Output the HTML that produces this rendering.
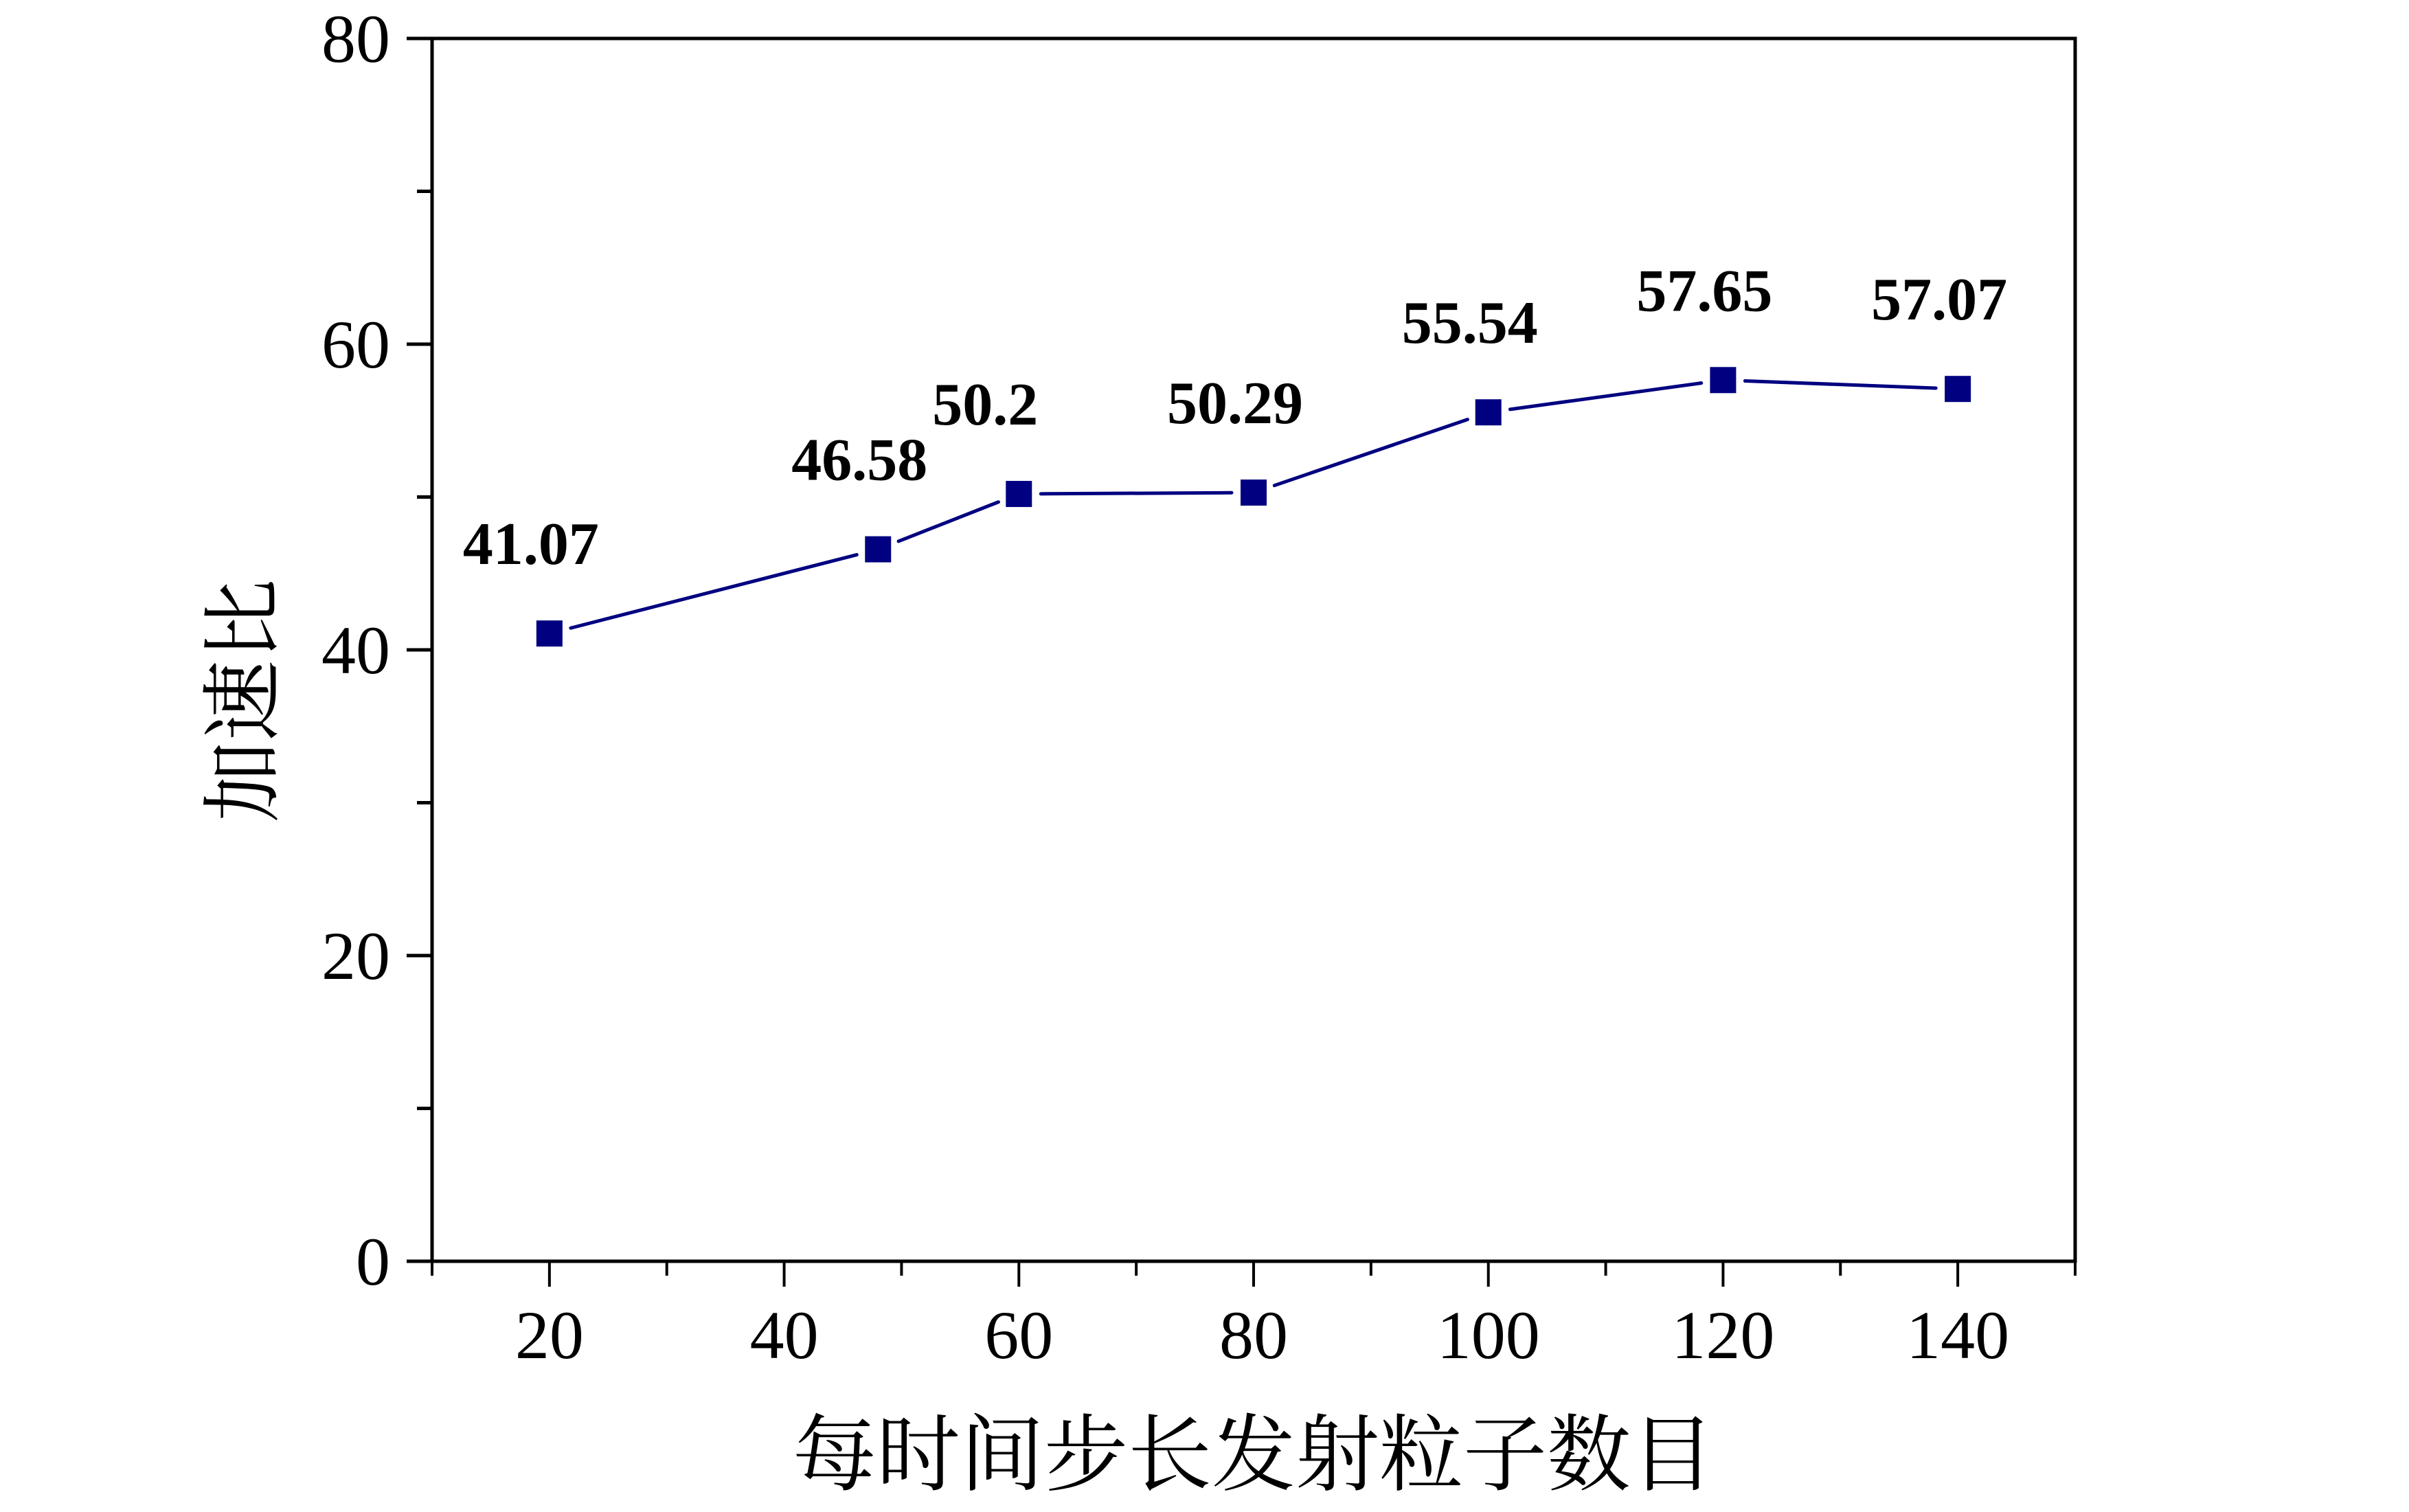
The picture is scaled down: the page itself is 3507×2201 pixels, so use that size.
<!DOCTYPE html>
<html><head><meta charset="utf-8">
<style>
html,body{margin:0;padding:0;background:#fff;}
svg{display:block;}
</style></head>
<body>
<svg id="chart" width="3507" height="2201" viewBox="0 0 3507 2201" xmlns="http://www.w3.org/2000/svg">
<rect x="0" y="0" width="3507" height="2201" fill="#fff"/>
<g id="axes"></g>
<g id="series"></g>
<text x="1825" y="2160" text-anchor="middle" font-size="122" font-family="'Liberation Serif','Noto Serif CJK SC','Noto Sans CJK SC',serif">每时间步长发射粒子数目</text>
<text transform="translate(395,1020) rotate(-90)" text-anchor="middle" font-size="118" font-family="'Liberation Serif','Noto Serif CJK SC','Noto Sans CJK SC',serif">加速比</text>
</svg>
<script>
const xValues = [20, 48, 60, 80, 100, 120, 140];
const yValues = [41.07, 46.58, 50.2, 50.29, 55.54, 57.65, 57.07];
const pointLabels = ["41.07", "46.58", "50.2", "50.29", "55.54", "57.65", "57.07"];
const xTickLabels = ["20", "40", "60", "80", "100", "120", "140"];
const yTickLabels = ["0", "20", "40", "60", "80"];

const NS = "http://www.w3.org/2000/svg";
const L = 629, R = 3021, T = 56, B = 1836;
const XMIN = 10, XMAX = 150, YMIN = 0, YMAX = 80;
const sx = v => L + (v - XMIN) / (XMAX - XMIN) * (R - L);
const sy = v => B - (v - YMIN) / (YMAX - YMIN) * (B - T);
function mk(tag, attrs, parent) {
  const e = document.createElementNS(NS, tag);
  for (const k in attrs) e.setAttribute(k, attrs[k]);
  parent.appendChild(e);
  return e;
}
const axes = document.getElementById('axes');
const series = document.getElementById('series');
const serif = "'Liberation Serif','Times New Roman',serif";

// frame
let f = mk('rect', {x: L, y: T, width: R - L, height: B - T, fill: 'none', stroke: '#000', 'stroke-width': 5}, axes);



// y ticks
for (let v = YMIN; v <= YMAX; v += 10) {
  const major = v % 20 === 0;
  const t = mk('line', {x1: L - (major ? 37 : 22), x2: L, y1: sy(v), y2: sy(v), stroke: '#000', 'stroke-width': 5}, axes);
  
  
}
yTickLabels.forEach(s => {
  const t = mk('text', {x: 568, y: sy(+s) + 34, 'text-anchor': 'end', 'font-size': 100, 'font-family': serif}, axes);
  t.textContent = s;
  
  
});
// x ticks
for (let v = XMIN; v <= XMAX; v += 10) {
  const major = v % 20 === 0;
  const t = mk('line', {x1: sx(v), x2: sx(v), y1: B, y2: B + (major ? 37 : 21), stroke: '#000', 'stroke-width': 4}, axes);
  
  
}
xTickLabels.forEach(s => {
  const t = mk('text', {x: sx(+s), y: 1977, 'text-anchor': 'middle', 'font-size': 100, 'font-family': serif}, axes);
  t.textContent = s;
  
  
});

// line segments with gaps near markers
const GAP = 32;
for (let i = 0; i < xValues.length - 1; i++) {
  const x1 = sx(xValues[i]), y1 = sy(yValues[i]), x2 = sx(xValues[i + 1]), y2 = sy(yValues[i + 1]);
  const d = Math.hypot(x2 - x1, y2 - y1), ux = (x2 - x1) / d, uy = (y2 - y1) / d;
  const s = mk('line', {x1: x1 + ux * GAP, y1: y1 + uy * GAP, x2: x2 - ux * GAP, y2: y2 - uy * GAP, stroke: '#000080', 'stroke-width': 5, 'stroke-linecap': 'round'}, series);
  
  
}
// markers and labels
xValues.forEach((xv, i) => {
  const cx = sx(xv), cy = sy(yValues[i]);
  const m = mk('rect', {x: cx - 19, y: cy - 19, width: 38, height: 38, fill: '#000080'}, series);
  
  
  const t = mk('text', {x: cx - 126, y: cy - 101, 'font-size': 88, 'font-weight': 'bold', 'font-family': serif}, series);
  t.textContent = pointLabels[i];
  
  
});
</script>
</body></html>
